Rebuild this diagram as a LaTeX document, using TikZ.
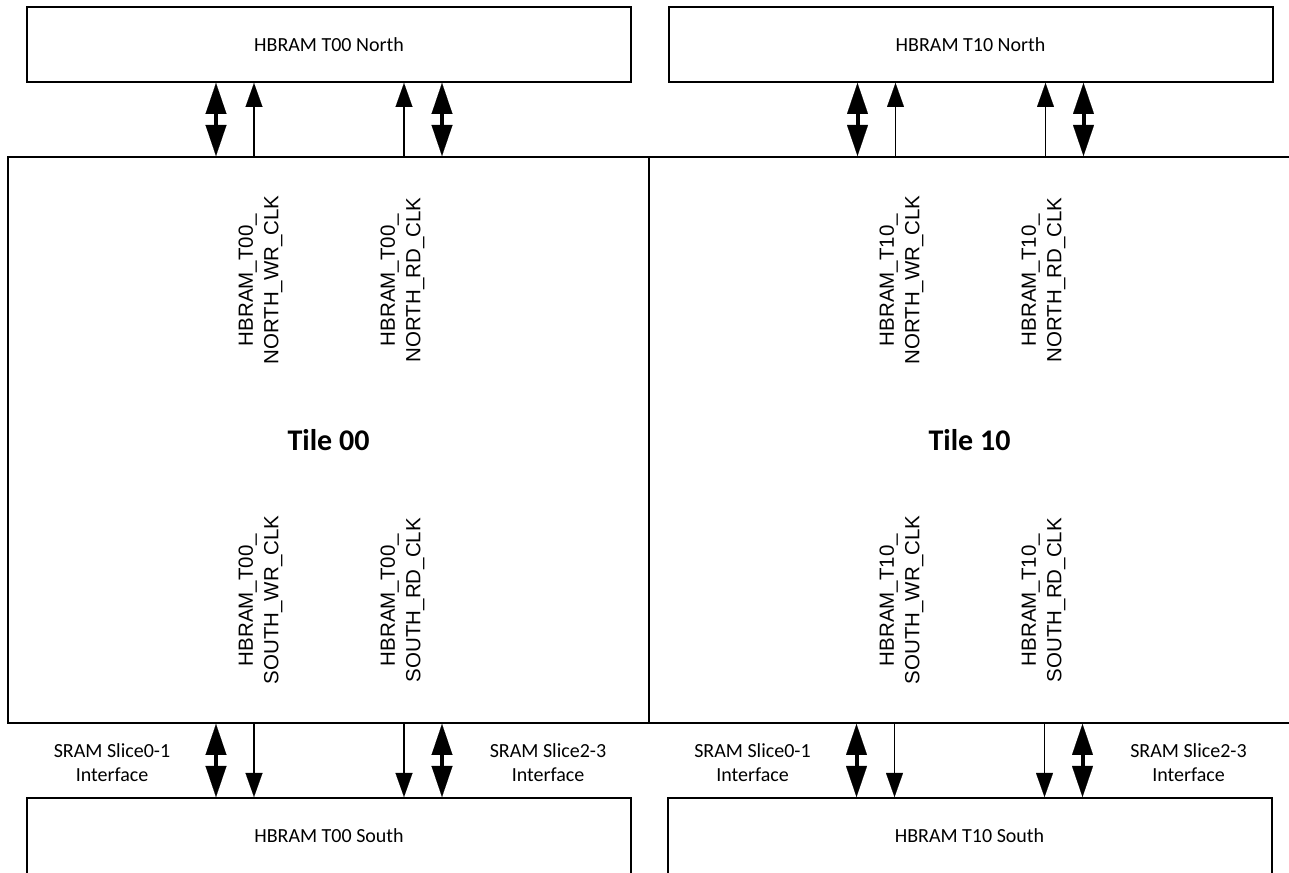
\documentclass[tikz,border=0pt]{standalone}
\usepackage{fontspec}
\setmainfont{Carlito}
\newfontfamily\arialfont{Liberation Sans}
\usetikzlibrary{arrows.meta, positioning, calc}

\begin{document}
\begin{tikzpicture}[
  x=1pt, y=1pt,
  hbram/.style={draw, line width=2pt, minimum width=604pt, minimum height=75pt, inner sep=0pt, font=\fontsize{20}{24}\selectfont},
  tile/.style={draw, line width=2pt, minimum width=641pt, minimum height=566pt, inner sep=0pt, font=\bfseries\fontsize{30}{36}\selectfont},
  clk/.style={rotate=90, align=center, inner sep=0pt, font=\arialfont\fontsize{20.5}{25.5}\selectfont},
  sram/.style={align=center, inner sep=0pt, font=\fontsize{20}{24}\selectfont},
  bus/.style={line width=4pt, {Triangle[length=31pt,width=21pt,line width=0.1pt]}-{Triangle[length=31pt,width=21pt,line width=0.1pt]}},
  clkline/.style={line width=1.5pt, -{Triangle[length=24pt,width=17pt,line width=0.1pt]}}
]
\useasboundingbox (0,0) rectangle (1289,872);
\clip (0,0) rectangle (1289,872);

\node[hbram] (t00n) at (329,827.5) {HBRAM T00 North};
\node[hbram] (t10n) at (970.5,827.5) {HBRAM T10 North};
\node[tile] (t00) at (328.5,432) {Tile 00};
\node[tile] (t10) at (969.5,432) {Tile 10};
\node[hbram, minimum height=81pt, text depth=6pt] (t00s) at (329,33.5) {HBRAM T00 South};
\node[hbram, minimum height=81pt, text depth=6pt] (t10s) at (969.5,33.5) {HBRAM T10 South};

% clock names inside the tiles
\node[clk] (t00nwr) at ($(t00.center)+(-68,160)$) {HBRAM\_T00\_\\NORTH\_WR\_CLK};
\node[clk] (t00nrd) at ($(t00.center)+(74,160)$) {HBRAM\_T00\_\\NORTH\_RD\_CLK};
\node[clk] (t00swr) at ($(t00.center)+(-68,-160)$) {HBRAM\_T00\_\\SOUTH\_WR\_CLK};
\node[clk] (t00srd) at ($(t00.center)+(74,-160)$) {HBRAM\_T00\_\\SOUTH\_RD\_CLK};
\node[clk] (t10nwr) at ($(t10.center)+(-68,160)$) {HBRAM\_T10\_\\NORTH\_WR\_CLK};
\node[clk] (t10nrd) at ($(t10.center)+(74,160)$) {HBRAM\_T10\_\\NORTH\_RD\_CLK};
\node[clk] (t10swr) at ($(t10.center)+(-68,-160)$) {HBRAM\_T10\_\\SOUTH\_WR\_CLK};
\node[clk] (t10srd) at ($(t10.center)+(74,-160)$) {HBRAM\_T10\_\\SOUTH\_RD\_CLK};

% interface labels
\node[sram] (t00sl) at ($(t00s.north)+(-217,34)$) {SRAM Slice0-1\\Interface};
\node[sram] (t00sr) at ($(t00s.north)+(219,34)$) {SRAM Slice2-3\\Interface};
\node[sram] (t10sl) at ($(t10s.north)+(-217,34)$) {SRAM Slice0-1\\Interface};
\node[sram] (t10sr) at ($(t10s.north)+(219,34)$) {SRAM Slice2-3\\Interface};

% north side
\draw[bus] ($(t00n.south)+(-113,0)$) -- ($(t00n.south |- t00.north)+(-113,0)$);
\draw[clkline] ($(t00n.south |- t00.north)+(-75,0)$) -- ($(t00n.south)+(-75,0)$);
\draw[clkline] ($(t00n.south |- t00.north)+(75,0)$) -- ($(t00n.south)+(75,0)$);
\draw[bus] ($(t00n.south)+(113,0)$) -- ($(t00n.south |- t00.north)+(113,0)$);
\draw[bus] ($(t10n.south)+(-113,0)$) -- ($(t10n.south |- t10.north)+(-113,0)$);
\draw[clkline] ($(t10n.south |- t10.north)+(-75,0)$) -- ($(t10n.south)+(-75,0)$);
\draw[clkline] ($(t10n.south |- t10.north)+(75,0)$) -- ($(t10n.south)+(75,0)$);
\draw[bus] ($(t10n.south)+(113,0)$) -- ($(t10n.south |- t10.north)+(113,0)$);

% south side
\draw[bus] ($(t00s.north)+(-113,0)$) -- ($(t00s.north |- t00.south)+(-113,0)$);
\draw[clkline] ($(t00s.north |- t00.south)+(-75,0)$) -- ($(t00s.north)+(-75,0)$);
\draw[clkline] ($(t00s.north |- t00.south)+(75,0)$) -- ($(t00s.north)+(75,0)$);
\draw[bus] ($(t00s.north)+(113,0)$) -- ($(t00s.north |- t00.south)+(113,0)$);
\draw[bus] ($(t10s.north)+(-113,0)$) -- ($(t10s.north |- t10.south)+(-113,0)$);
\draw[clkline] ($(t10s.north |- t10.south)+(-75,0)$) -- ($(t10s.north)+(-75,0)$);
\draw[clkline] ($(t10s.north |- t10.south)+(75,0)$) -- ($(t10s.north)+(75,0)$);
\draw[bus] ($(t10s.north)+(113,0)$) -- ($(t10s.north |- t10.south)+(113,0)$);
\end{tikzpicture}
\end{document}
